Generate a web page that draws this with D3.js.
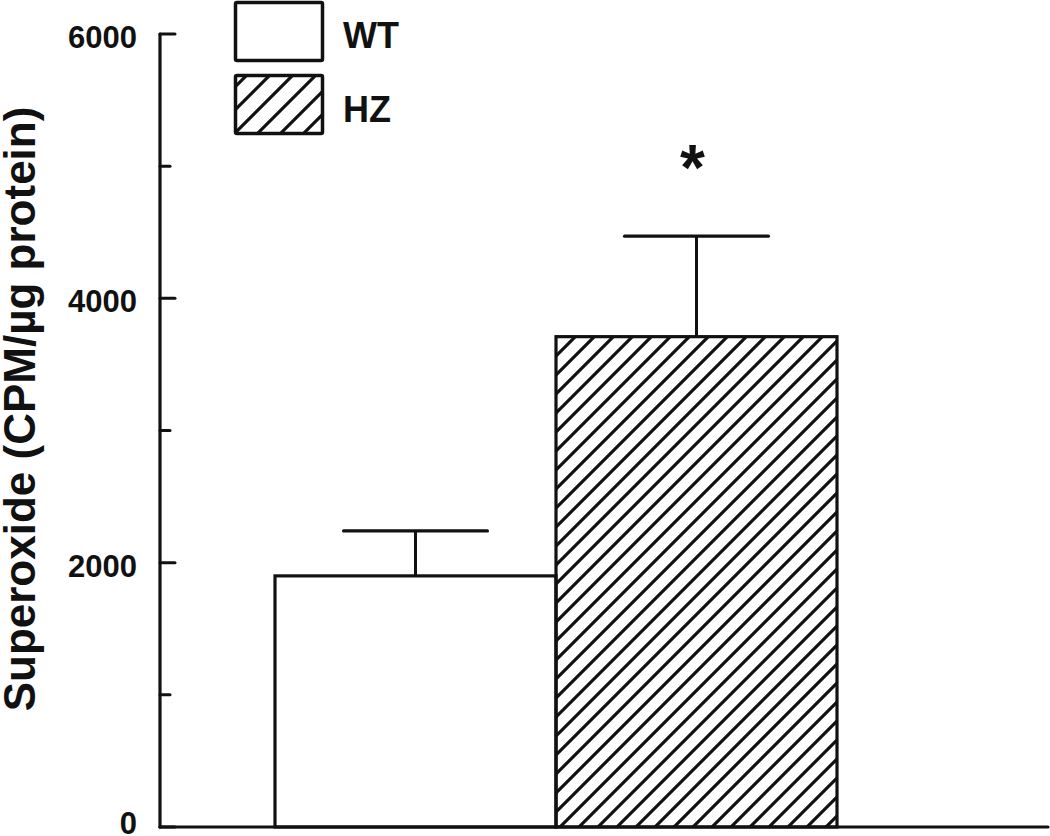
<!doctype html>
<html>
<head>
<script src="https://cdnjs.cloudflare.com/ajax/libs/d3/7.8.5/d3.min.js"></script>
<style>
body { margin: 0; background: #fff; }
text { font-family: "Liberation Sans", Arial, sans-serif; font-weight: bold; fill: #111; }
</style>
</head>
<body>
<svg id="chart" width="1050" height="836"></svg>
<script>
var groups = ["WT", "HZ"];
var means = [1900, 3710];
var errors = [340, 760];
var yTicks = [0, 1000, 2000, 3000, 4000, 5000, 6000];
var yLabels = [0, 2000, 4000, 6000];
var yTitle = "Superoxide (CPM/\u00b5g protein)";

var svg = d3.select("#chart");
var ink = "#111";

var y = d3.scaleLinear().domain([0, 6000]).range([827, 34]);
var x = d3.scaleBand().domain(groups).range([275, 837]).padding(0);

var defs = svg.append("defs");
function hatch(id, w) {
  defs.append("pattern")
    .attr("id", id)
    .attr("patternUnits", "userSpaceOnUse")
    .attr("width", w).attr("height", w)
    .append("path")
    .attr("d", "M-2,2 l4,-4 M0," + w + " l" + w + "," + (-w) + " M" + (w - 2) + "," + (w + 2) + " l4,-4")
    .attr("stroke", ink)
    .attr("stroke-width", 3.2);
}
hatch("hatchBar", 19);
hatch("hatchLegend", 23);

var fills = ["#fff", "url(#hatchBar)"];

var data = groups.map(function(g, i) { return {g: g, m: means[i], e: errors[i], i: i}; });

// error bars (drawn first, bars cover the lower half)
var err = svg.append("g");
data.forEach(function(d) {
  var cx = x(d.g) + x.bandwidth() / 2;
  var hw = x.bandwidth() * 0.256;
  err.append("line")
    .attr("x1", cx).attr("x2", cx)
    .attr("y1", y(d.m)).attr("y2", y(d.m + d.e))
    .attr("stroke", ink).attr("stroke-width", 3);
  err.append("line")
    .attr("x1", cx - hw).attr("x2", cx + hw)
    .attr("y1", y(d.m + d.e)).attr("y2", y(d.m + d.e))
    .attr("stroke", ink).attr("stroke-width", 3.2)
    .attr("stroke-linecap", "round");
});

svg.append("g").selectAll("rect")
  .data(data)
  .enter().append("rect")
  .attr("x", function(d) { return x(d.g); })
  .attr("y", function(d) { return y(d.m); })
  .attr("width", x.bandwidth())
  .attr("height", function(d) { return y(0) - y(d.m); })
  .attr("fill", function(d) { return fills[d.i]; })
  .attr("stroke", ink)
  .attr("stroke-width", 3.2);

// significance mark
var hz = data[1];
svg.append("text")
  .attr("x", x(hz.g) + x.bandwidth() / 2 - 4)
  .attr("y", y(hz.m + hz.e) - 46)
  .attr("text-anchor", "middle")
  .style("font-size", "64px")
  .text("*");

// axes
svg.append("line")
  .attr("x1", 160).attr("x2", 1048)
  .attr("y1", y(0)).attr("y2", y(0))
  .attr("stroke", ink).attr("stroke-width", 3.2)
  .attr("stroke-linecap", "round");
svg.append("line")
  .attr("x1", 160).attr("x2", 160)
  .attr("y1", y(0)).attr("y2", y(6000))
  .attr("stroke", ink).attr("stroke-width", 3.2)
  .attr("stroke-linecap", "round");

var yAxis = svg.append("g");
yAxis.selectAll("line.tick")
  .data(yTicks)
  .enter().append("line")
  .attr("class", "tick")
  .attr("x1", 160)
  .attr("x2", function(d) { return yLabels.indexOf(d) >= 0 ? 175 : 170; })
  .attr("y1", function(d) { return y(d); })
  .attr("y2", function(d) { return y(d); })
  .attr("stroke", ink).attr("stroke-width", 3)
  .attr("stroke-linecap", "round");
yAxis.selectAll("text")
  .data(yLabels)
  .enter().append("text")
  .attr("x", 137)
  .attr("y", function(d) { return y(d) + (d === 0 ? 7 : 14); })
  .attr("text-anchor", "end")
  .style("font-size", "31px")
  .text(function(d) { return d; });

svg.append("text")
  .attr("transform", "translate(35,409) rotate(-90)")
  .attr("text-anchor", "middle")
  .style("font-size", "44px")
  .text(yTitle);

// legend
var legend = svg.append("g");
var legendFills = ["#fff", "url(#hatchLegend)"];
var legendY = [2.5, 75.5];
var legendBase = [48, 122];
groups.forEach(function(g, i) {
  legend.append("rect")
    .attr("x", 235.5).attr("y", legendY[i])
    .attr("width", 87).attr("height", 58)
    .attr("fill", legendFills[i])
    .attr("stroke", ink).attr("stroke-width", 3.5)
    .attr("rx", 1.5);
  legend.append("text")
    .attr("x", 343).attr("y", legendBase[i])
    .style("font-size", "36px")
    .text(g);
});
</script>
</body>
</html>
